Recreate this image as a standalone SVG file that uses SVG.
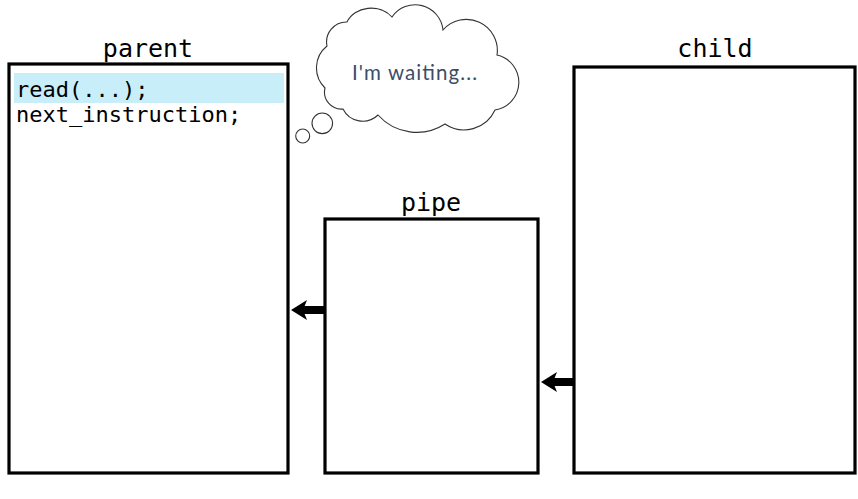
<svg xmlns="http://www.w3.org/2000/svg" width="858" height="499" viewBox="0 0 858 499">
<style>
.box{fill:#fff;stroke:#000;stroke-width:3.2}
.lbl{font-family:"DejaVu Sans Mono",monospace;font-size:25px;fill:#000;text-anchor:middle}
.code{font-family:"DejaVu Sans Mono",monospace;font-size:22px;fill:#000}
.bub{fill:#fff;stroke:#333;stroke-width:1.1}
.think{font-family:Lato,"Open Sans",sans-serif;font-size:20.5px;fill:#3b4e68}
.conn{stroke:#000;stroke-width:8;fill:none}
</style>
<defs>
<marker id="ah" viewBox="0 0 16 20" refX="5" refY="10" markerWidth="16" markerHeight="20" orient="auto" markerUnits="userSpaceOnUse">
<path d="M0,0 L16,10 L0,20 L4,10 Z" fill="#000"/>
</marker>
</defs>
<g id="parent">
<rect class="box" x="9" y="64" width="279" height="409"/>
<rect x="14" y="73" width="270" height="30" fill="#c8eefa"/>
<text class="code" x="16" y="97">read(...);</text>
<text class="code" x="16" y="122">next_instruction;</text>
<text class="lbl" x="148" y="57">parent</text>
</g>
<g id="pipe">
<rect class="box" x="325" y="219" width="213" height="254"/>
<text class="lbl" x="431" y="211">pipe</text>
</g>
<g id="child">
<rect class="box" x="574" y="67" width="281" height="406"/>
<text class="lbl" x="715" y="57">child</text>
</g>
<g id="thought">
<circle class="bub" cx="302.7" cy="136" r="7"/>
<circle class="bub" cx="322.3" cy="123.3" r="10.3"/>
<path class="bub" d="M327,46 A20,20 0 0 1 347,22 A26,22 0 0 1 392,17 A28,28 0 0 1 443,30 A31,31 0 0 1 497,55 A28,28 0 0 1 495,110 A34,34 0 0 1 445,124 A52,52 0 0 1 378,115 A22,22 0 0 1 343,109 A17,17 0 0 1 325,88 A28,28 0 0 1 327,46 Z"/>
<text class="think" x="352" y="80" textLength="125" lengthAdjust="spacing">I'm waiting...</text>
</g>
<g id="connectors">
<line class="conn" x1="326" y1="310" x2="302" y2="310" marker-end="url(#ah)"/>
<line class="conn" x1="575" y1="382" x2="552" y2="382" marker-end="url(#ah)"/>
</g>
</svg>
